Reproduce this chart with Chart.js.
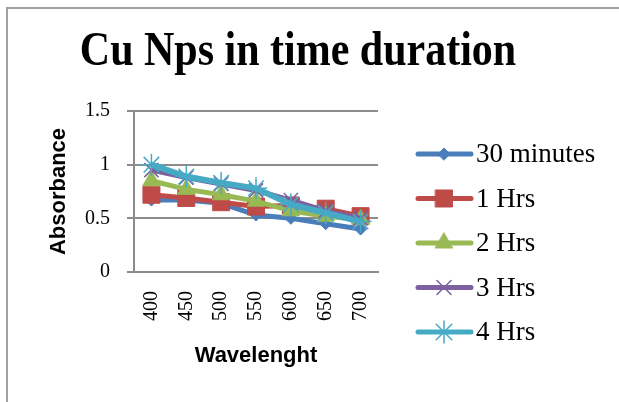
<!DOCTYPE html>
<html>
<head>
<meta charset="utf-8">
<script src="https://cdn.jsdelivr.net/npm/chart.js@4/dist/chart.umd.min.js"></script>
<style>
  body { margin: 0; background: #fff; }
  canvas { display: block; }
</style>
</head>
<body>
<canvas id="myChart" width="619" height="402"></canvas>
<script>
const wavelengths = ["400", "450", "500", "550", "600", "650", "700"]
const yTicks = [0, 0.5, 1, 1.5]
const seriesNames = ["30 minutes", "1 Hrs", "2 Hrs", "3 Hrs", "4 Hrs"]

const min30 = [0.67, 0.67, 0.64, 0.53, 0.50, 0.45, 0.40]
const hrs1 = [0.72, 0.69, 0.65, 0.61, 0.62, 0.59, 0.52]
const hrs2 = [0.85, 0.77, 0.72, 0.66, 0.57, 0.52, 0.49]
const hrs3 = [0.95, 0.88, 0.82, 0.76, 0.67, 0.57, 0.50]
const hrs4 = [1.00, 0.89, 0.83, 0.78, 0.63, 0.55, 0.47]

const colors = ["#4A7EBB", "#BE4B48", "#98B954", "#7D60A0", "#46AAC5"]
const styles = [
    { pointStyle: "rectRot", radius: 6, borderWidth: 1 },
    { pointStyle: "rect", radius: 12, borderWidth: 1 },
    { pointStyle: "triangle", radius: 10, borderWidth: 1 },
    { pointStyle: "crossRot", radius: 10, borderWidth: 1.5 },
    { pointStyle: "star", radius: 11, borderWidth: 1.5 }
]

const serif = "'Liberation Serif', 'Times New Roman', serif"
const sans = "'Liberation Sans', Arial, sans-serif"

var ctx = document.getElementById('myChart').getContext('2d');

const datasets = [min30, hrs1, hrs2, hrs3, hrs4].map((values, i) => {
    return {
        label: seriesNames[i],
        data: values,
        borderColor: colors[i],
        backgroundColor: colors[i],
        borderWidth: i == 4 ? 6 : 5,
        pointStyle: styles[i].pointStyle,
        pointRadius: styles[i].radius,
        pointHoverRadius: styles[i].radius,
        pointBorderWidth: styles[i].borderWidth,
        pointBorderColor: colors[i],
        pointBackgroundColor: colors[i],
        tension: 0,
        order: 5 - i
    }
})

// frame, title and the line+marker legend on the right
const decorations = {
    id: "decorations",
    beforeDraw(chart) {
        const c = chart.ctx
        c.save()
        c.fillStyle = "#fff"
        c.fillRect(0, 0, chart.width, chart.height)
        c.strokeStyle = "#a0a0a0"
        c.lineWidth = 2
        c.beginPath()
        c.moveTo(7, 402)
        c.lineTo(7, 8)
        c.lineTo(619, 8)
        c.stroke()
        c.restore()
    },
    afterDraw(chart) {
        const c = chart.ctx
        c.save()
        c.fillStyle = "#000"
        c.font = "bold 42px " + serif
        c.textAlign = "center"
        c.textBaseline = "alphabetic"
        c.translate(298, 65)
        c.scale(1, 1.14)
        c.fillText("Cu Nps in time duration", 0, 0)
        c.restore()

        c.save()
        c.font = "27px " + serif
        c.textAlign = "left"
        c.textBaseline = "middle"
        seriesNames.forEach((name, i) => {
            const y = 154 + i * 44.5
            c.strokeStyle = colors[i]
            c.lineWidth = 5
            c.lineCap = "round"
            c.beginPath()
            c.moveTo(418, y)
            c.lineTo(471, y)
            c.stroke()
            c.fillStyle = colors[i]
            c.strokeStyle = colors[i]
            c.lineWidth = styles[i].borderWidth
            Chart.helpers.drawPoint(c, {
                pointStyle: styles[i].pointStyle,
                radius: styles[i].radius,
                rotation: 0,
                borderWidth: styles[i].borderWidth
            }, 444, y)
            c.fillStyle = "#000"
            c.fillText(name, 476, y + 1)
        })
        c.restore()
    }
}

let myChart = new Chart(ctx, {
    type: 'line',
    data: {
        labels: wavelengths,
        datasets: datasets
    },
    plugins: [decorations],
    options: {
        responsive: false,
        animation: false,
        layout: {
            padding: { top: 111, right: 241, left: 0, bottom: 0 }
        },
        plugins: {
            legend: { display: false },
            tooltip: { enabled: false }
        },
        scales: {
            x: {
                offset: true,
                afterFit: (s) => { s.height = 130 },
                grid: { display: false, drawTicks: false },
                border: { display: true, color: "#8c8c8c", width: 2 },
                ticks: {
                    minRotation: 90,
                    maxRotation: 90,
                    padding: 19,
                    color: "#000",
                    font: { family: serif, size: 20 }
                },
                title: {
                    display: true,
                    text: "Wavelenght",
                    color: "#000",
                    font: { family: sans, size: 22, weight: "bold" },
                    padding: { top: 0, bottom: 33 }
                }
            },
            y: {
                min: 0,
                max: 1.5,
                afterFit: (s) => { s.width = 134 },
                afterBuildTicks: (s) => { s.ticks = yTicks.map(v => ({ value: v })) },
                grid: { color: "#8c8c8c", lineWidth: 2, tickLength: 7 },
                border: { display: true, color: "#8c8c8c", width: 2 },
                ticks: {
                    padding: 17,
                    color: "#000",
                    font: { family: serif, size: 20 },
                    callback: (v) => String(v)
                },
                title: {
                    display: true,
                    text: "Absorbance",
                    color: "#000",
                    font: { family: sans, size: 22, weight: "bold" },
                    padding: { top: 46, bottom: 0 }
                }
            }
        }
    }
});
</script>
</body>
</html>
